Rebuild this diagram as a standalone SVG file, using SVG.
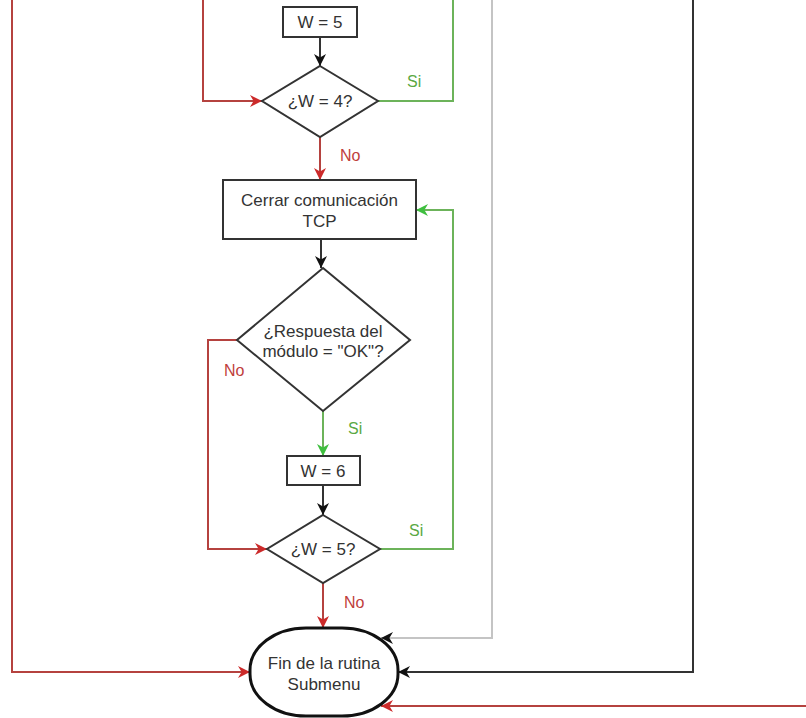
<svg xmlns="http://www.w3.org/2000/svg" width="806" height="718" viewBox="0 0 806 718">
<defs>
<style>
.node{fill:#ffffff;stroke:#333333;stroke-width:2}
.term{fill:#ffffff;stroke:#111111;stroke-width:3}
.t{font-family:"Liberation Sans",Arial,sans-serif;font-size:17px;fill:#333333;text-anchor:middle}
.lbl{font-family:"Liberation Sans",Arial,sans-serif;font-size:16px}
.si{fill:#5aa844}
.no{fill:#c0403c}
.c{fill:none;stroke-width:2}
.k{stroke:#333333}
.r{stroke:#b5423f}
.g{stroke:#6cb35a}
.gr{stroke:#c4c4c4}
</style>
<marker id="ak" markerUnits="userSpaceOnUse" markerWidth="12" markerHeight="12" viewBox="0 0 10 10" refX="10" refY="5" orient="auto"><path d="M0,0 L10,5 L0,10 L3,5 z" fill="#111111"/></marker>
<marker id="ar" markerUnits="userSpaceOnUse" markerWidth="12" markerHeight="12" viewBox="0 0 10 10" refX="10" refY="5" orient="auto"><path d="M0,0 L10,5 L0,10 L3,5 z" fill="#cc2a2a"/></marker>
<marker id="ag" markerUnits="userSpaceOnUse" markerWidth="12" markerHeight="12" viewBox="0 0 10 10" refX="10" refY="5" orient="auto"><path d="M0,0 L10,5 L0,10 L3,5 z" fill="#3fbf3f"/></marker>
</defs>
<rect width="806" height="718" fill="#ffffff"/>
<g id="connectors">
<path class="c k" d="M320,37 V66" marker-end="url(#ak)"/>
<path class="c r" d="M203,0 V101 H262" marker-end="url(#ar)"/>
<path class="c g" d="M378,101 H453 V0"/>
<path class="c r" d="M320,137 V180" marker-end="url(#ar)"/>
<path class="c k" d="M321,239 V268" marker-end="url(#ak)"/>
<path class="c r" d="M237,340 H208 V549 H267" marker-end="url(#ar)"/>
<path class="c g" d="M323,411 V456" marker-end="url(#ag)"/>
<path class="c k" d="M323,485 V515" marker-end="url(#ak)"/>
<path class="c g" d="M380,549 H453 V210 H416" marker-end="url(#ag)"/>
<path class="c r" d="M323,583 V628" marker-end="url(#ar)"/>
<path class="c r" d="M12,0 V672 H250" marker-end="url(#ar)"/>
<path class="c gr" d="M492,0 V638 H381" marker-end="url(#ak)"/>
<path class="c k" d="M693,0 V672 H398" marker-end="url(#ak)"/>
<path class="c r" d="M806,706 H381" marker-end="url(#ar)"/>
<text class="lbl si" x="407" y="87">Si</text>
<text class="lbl no" x="340" y="161">No</text>
<text class="lbl no" x="224" y="376">No</text>
<text class="lbl si" x="348" y="434">Si</text>
<text class="lbl si" x="409" y="536">Si</text>
<text class="lbl no" x="344" y="608">No</text>
</g>
<g id="w5">
<rect class="node" x="283" y="7" width="74" height="30"/>
<text class="t" x="320" y="28">W = 5</text>
</g>
<g id="d_w4">
<polygon class="node" points="320,66 378,101 320,137 262,101"/>
<text class="t" x="320" y="107">¿W = 4?</text>
</g>
<g id="cerrar">
<rect class="node" x="223" y="180" width="193" height="59"/>
<text class="t" x="319.5" y="206">Cerrar comunicación</text>
<text class="t" x="319.5" y="227">TCP</text>
</g>
<g id="d_ok">
<polygon class="node" points="323,268 410,340 323,411 237,340"/>
<text class="t" x="323" y="337">¿Respuesta del</text>
<text class="t" x="323" y="357">módulo = "OK"?</text>
</g>
<g id="w6">
<rect class="node" x="287" y="456" width="73" height="29"/>
<text class="t" x="323" y="477">W = 6</text>
</g>
<g id="d_w5">
<polygon class="node" points="323,515 380,549 323,583 267,549"/>
<text class="t" x="323" y="555">¿W = 5?</text>
</g>
<g id="fin">
<rect class="term" x="250" y="628" width="148" height="88" rx="56" ry="42"/>
<text class="t" x="324" y="669">Fin de la rutina</text>
<text class="t" x="324" y="690">Submenu</text>
</g>
</svg>
